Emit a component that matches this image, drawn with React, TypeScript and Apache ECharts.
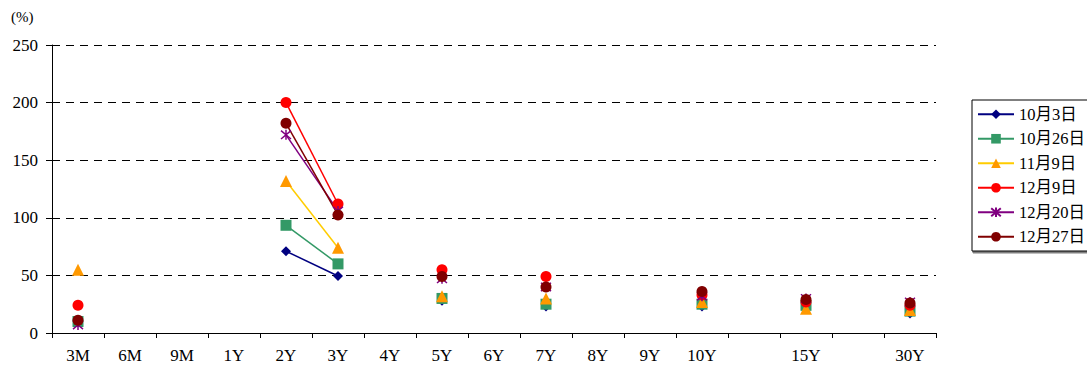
import React, { useEffect, useRef } from "react";
import * as echarts from "echarts";

const categories = ["3M", "6M", "9M", "1Y", "2Y", "3Y", "4Y", "5Y", "6Y", "7Y", "8Y", "9Y", "10Y", "", "15Y", "", "30Y"];
const yTicks = [0, 50, 100, 150, 200, 250];

const oct3 = [11, null, null, null, 71, 49.5, null, 28, null, 23, null, null, 23, null, 22, null, 17];
const oct26 = [10, null, null, null, 93.5, 60, null, 30, null, 25, null, null, 25, null, 24, null, 19];
const nov9 = [55, null, null, null, 132, 74, null, 32, null, 30, null, null, 27, null, 21, null, 20];
const dec9 = [24, null, null, null, 200, 112, null, 55, null, 49, null, null, 33, null, 27, null, 24];
const dec20 = [7, null, null, null, 172, 106, null, 47, null, 40, null, null, 32, null, 30, null, 27];
const dec27 = [11, null, null, null, 182, 102.5, null, 49, null, 40, null, null, 36, null, 29, null, 26];

const seriesNames = ["10月3日", "10月26日", "11月9日", "12月9日", "12月20日", "12月27日"];

const FONT = "'Liberation Serif', 'Noto Sans CJK JP', serif";

export default function App() {
  const ref = useRef<HTMLDivElement>(null);
  useEffect(() => {
    if (!ref.current) return;
    const chart = echarts.init(ref.current, null, { renderer: "svg" });
    const mk = (name: string, data: any[], symbol: string, size: number, lineColor: string, markColor: string) => ({
      name,
      type: "line",
      data,
      symbol,
      symbolSize: size,
      connectNulls: false,
      lineStyle: { color: lineColor, width: 1.5 },
      itemStyle: { color: markColor },
    });
    const asterisk = "path://M0,0 L20,20 M20,0 L0,20 M10,-2 L10,22";
    chart.setOption({
      animation: false,
      textStyle: { fontFamily: FONT },
      grid: { left: 52, right: 151, top: 45, bottom: 32 },
      graphic: [
        { type: "text", left: 11, top: 9, style: { text: "(%)", font: `15px ${FONT}`, fill: "#000" } },
      ],
      legend: {
        orient: "vertical",
        left: 972,
        top: 100,
        itemWidth: 36,
        itemHeight: 12,
        itemGap: 8,
        padding: [6, 8, 6, 5],
        borderColor: "#000",
        borderWidth: 1,
        shadowColor: "rgba(0,0,0,0.5)",
        shadowOffsetX: 1,
        shadowOffsetY: 2,
        shadowBlur: 1,
        backgroundColor: "#fff",
        textStyle: { fontFamily: FONT, fontSize: 16.5, color: "#000" },
        data: seriesNames,
      },
      xAxis: {
        type: "category",
        data: categories,
        boundaryGap: true,
        axisLine: { lineStyle: { color: "#000", width: 1 } },
        axisTick: { show: true, length: 5, inside: false, interval: 0, lineStyle: { color: "#000" } },
        axisLabel: { interval: 0, color: "#000", fontSize: 17, fontFamily: FONT, margin: 14 },
        splitLine: { show: false },
      },
      yAxis: {
        type: "value",
        min: yTicks[0],
        max: yTicks[yTicks.length - 1],
        interval: 50,
        axisLine: { show: true, lineStyle: { color: "#000", width: 1 } },
        axisTick: { show: true, length: 6, lineStyle: { color: "#000" } },
        axisLabel: { color: "#000", fontSize: 17, fontFamily: FONT, margin: 14 },
        splitLine: { show: true, lineStyle: { color: "#000", type: [8, 6], width: 1 } },
      },
      series: [
        mk(seriesNames[0], oct3, "diamond", 10, "#000080", "#000080"),
        mk(seriesNames[1], oct26, "rect", 11, "#339966", "#339966"),
        mk(seriesNames[2], nov9, "triangle", 12, "#FFCC00", "#FF9900"),
        mk(seriesNames[3], dec9, "circle", 11, "#FF0000", "#FF0000"),
        {
          ...mk(seriesNames[4], dec20, asterisk, 10, "#800080", "#800080"),
          itemStyle: { color: "#800080", borderColor: "#800080", borderWidth: 1.5 },
        },
        mk(seriesNames[5], dec27, "circle", 11, "#800000", "#800000"),
      ],
    });
    return () => chart.dispose();
  }, []);
  return <div ref={ref} style={{ width: 1087, height: 365, position: "absolute", left: 0, top: 0 }} />;
}
